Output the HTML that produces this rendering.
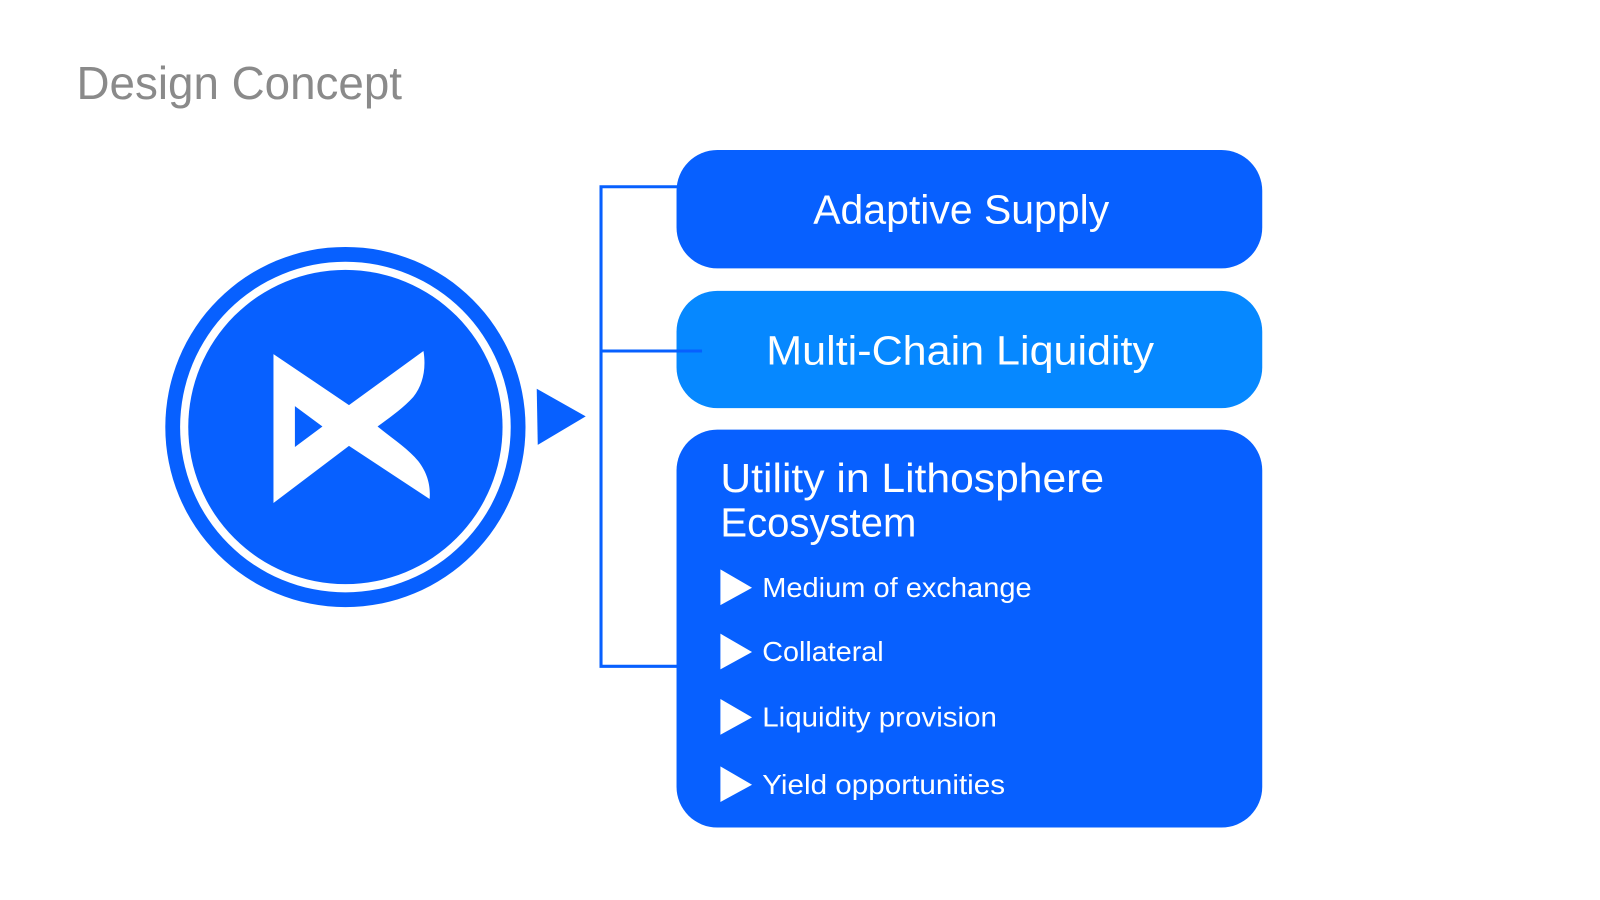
<!DOCTYPE html>
<html><head><meta charset="utf-8"><style>
html,body{margin:0;padding:0;background:#fff;width:1600px;height:900px;overflow:hidden}
svg{display:block}
text{font-family:"Liberation Sans",sans-serif}
</style></head><body>
<svg width="1600" height="900" viewBox="0 0 1568 882" preserveAspectRatio="none">
<text x="75" y="97" font-size="45" fill="#8a8a8a" textLength="319" lengthAdjust="spacingAndGlyphs">Design Concept</text>
<circle cx="338.5" cy="418.5" r="176.5" fill="#0760FF"/>
<circle cx="338.5" cy="418.5" r="162" fill="#fff"/>
<circle cx="338.5" cy="418.5" r="154" fill="#0760FF"/>
<path d="M268,347 L342,397 L415,344 C418,362 414,378 405,389 C395,400 382,409 370,418 C385,430 400,440 410,452 C420,465 422,478 421,489 L342,437 L268,493 Z" fill="#fff"/>
<path d="M289,398 L316,418 L289,438 Z" fill="#0760FF"/>
<path d="M526,381 L574,408 L527,436 Z" fill="#0760FF"/>
<path d="M665,183 L589,183 L589,653 L665,653" fill="none" stroke="#0760FF" stroke-width="3"/>
<rect x="663" y="147" width="574" height="116" rx="40" fill="#0760FF"/>
<rect x="663" y="285" width="574" height="115" rx="40" fill="#0688FF"/>
<line x1="589" y1="344" x2="688" y2="344" stroke="#0760FF" stroke-width="3"/>
<rect x="663" y="421" width="574" height="390" rx="40" fill="#0760FF"/>
<text x="797" y="219" font-size="40" fill="#fff" textLength="290" lengthAdjust="spacingAndGlyphs">Adaptive Supply</text>
<text x="751" y="357" font-size="40" fill="#fff" textLength="380" lengthAdjust="spacingAndGlyphs">Multi-Chain Liquidity</text>
<text x="706" y="482" font-size="40" fill="#fff" textLength="376" lengthAdjust="spacingAndGlyphs">Utility in Lithosphere</text>
<text x="706" y="526" font-size="40" fill="#fff" textLength="192" lengthAdjust="spacingAndGlyphs">Ecosystem</text>
<g fill="#fff" font-size="27">
<path d="M706,558 L737,576 L706,593 Z"/><text x="747" y="585" textLength="264" lengthAdjust="spacingAndGlyphs">Medium of exchange</text>
<path d="M706,621 L737,639 L706,656 Z"/><text x="747" y="648" textLength="119" lengthAdjust="spacingAndGlyphs">Collateral</text>
<path d="M706,685 L737,703 L706,720 Z"/><text x="747" y="712" textLength="230" lengthAdjust="spacingAndGlyphs">Liquidity provision</text>
<path d="M706,751 L737,769 L706,786 Z"/><text x="747" y="778" textLength="238" lengthAdjust="spacingAndGlyphs">Yield opportunities</text>
</g>
</svg>
</body></html>
